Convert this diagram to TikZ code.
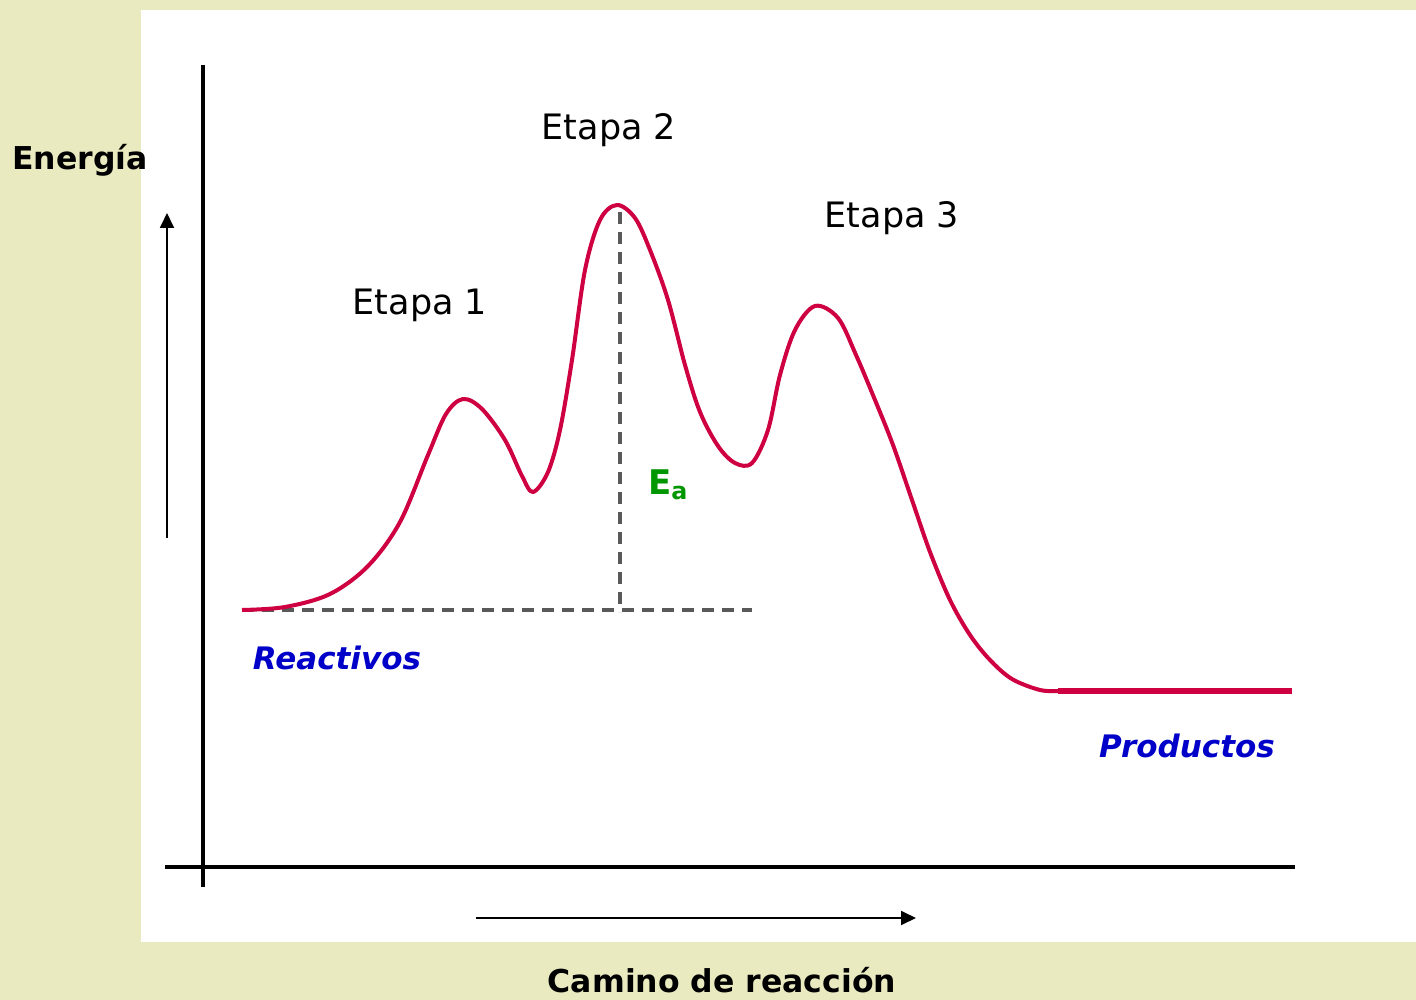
\documentclass[tikz,border=0pt]{standalone}
\usepackage{fontspec}
\setmainfont{DejaVu Sans}
\usetikzlibrary{arrows.meta}
\definecolor{bgy}{RGB}{234,234,192}
\definecolor{curvec}{RGB}{206,0,66}
\definecolor{labblue}{RGB}{0,0,200}
\definecolor{eagreen}{RGB}{0,150,0}
\tikzset{
  axis/.style={line width=3.5pt},
  guide/.style={line width=1.8pt,-{Triangle[length=15pt,width=14pt]}},
  energy/.style={curvec,line width=4pt,line join=round},
  dashline/.style={gray!70!black,line width=3.5pt,dash pattern=on 12pt off 8pt},
  etapa/.style={font=\fontsize{35}{40}\selectfont},
  title/.style={font=\fontsize{31.5}{40}\selectfont\bfseries},
  side/.style={font=\fontsize{31}{40}\selectfont\bfseries\itshape,text=labblue},
}
\begin{document}
\begin{tikzpicture}[x=1pt,y=-1pt]
\useasboundingbox (0,0) rectangle (1416,1000);
\fill[bgy] (0,0) rectangle (1416,1000);
\fill[white] (141,10) rectangle (1416,942);
% axes
\coordinate (ytop) at (203,65);
\coordinate (ybot) at (203,887);
\coordinate (xl) at (165,867);
\coordinate (xr) at (1295,867);
\draw[axis] (ytop) -- (ybot);
\draw[axis] (xl) -- (xr);
% guide arrows
\coordinate (ua) at (167,538);
\coordinate (ub) at (167,213);
\draw[guide] (ua) -- (ub);
\coordinate (ra) at (476,918);
\coordinate (rb) at (916,918);
\draw[guide] (ra) -- (rb);
% dashed lines
\coordinate (hd1) at (242,610);
\coordinate (hd2) at (752,610);
\coordinate (vd1) at (620,212);
\coordinate (vd2) at (620,612);
\draw[dashline] (hd1) -- (hd2);
\draw[dashline] (vd1) -- (vd2);
% energy curve
\draw[energy] plot[smooth,tension=0.55] coordinates {
 (242,610) (285,607) (330,594) (368,566) (400,522) (428,455) (446,414) (463,399)
 (482,409) (505,440) (522,476) (533,492) (548,472) (560,430) (572,360) (585,270)
 (600,220) (617,205) (635,218) (650,250) (668,300) (685,365) (700,412) (718,446)
 (735,463) (752,463) (768,430) (780,375) (795,330) (815,306) (838,318) (856,355)
 (875,400) (893,445) (912,500) (930,552) (950,600) (970,635) (990,660) (1012,679)
 (1040,690) (1060,691)};
\coordinate (pa) at (1058,691);
\coordinate (pb) at (1292,691);
\draw[curvec,line width=6pt] (pa) -- (pb);
% labels
\node[title,anchor=center] (en) at (80,160) {Energía};
\node[etapa] (e1) at (420,305) {Etapa 1};
\node[etapa] (e2) at (609,130) {Etapa 2};
\node[etapa] (e3) at (892,218) {Etapa 3};
\node[font=\fontsize{34}{40}\selectfont\bfseries,text=eagreen] (ea) at (668,485) {E\textsubscript{a}};
\node[side] (re) at (337,658) {Reactivos};
\node[side] (pr) at (1187,746) {Productos};
\node[title] (cr) at (722,980) {Camino de reacción};
\end{tikzpicture}
\end{document}
